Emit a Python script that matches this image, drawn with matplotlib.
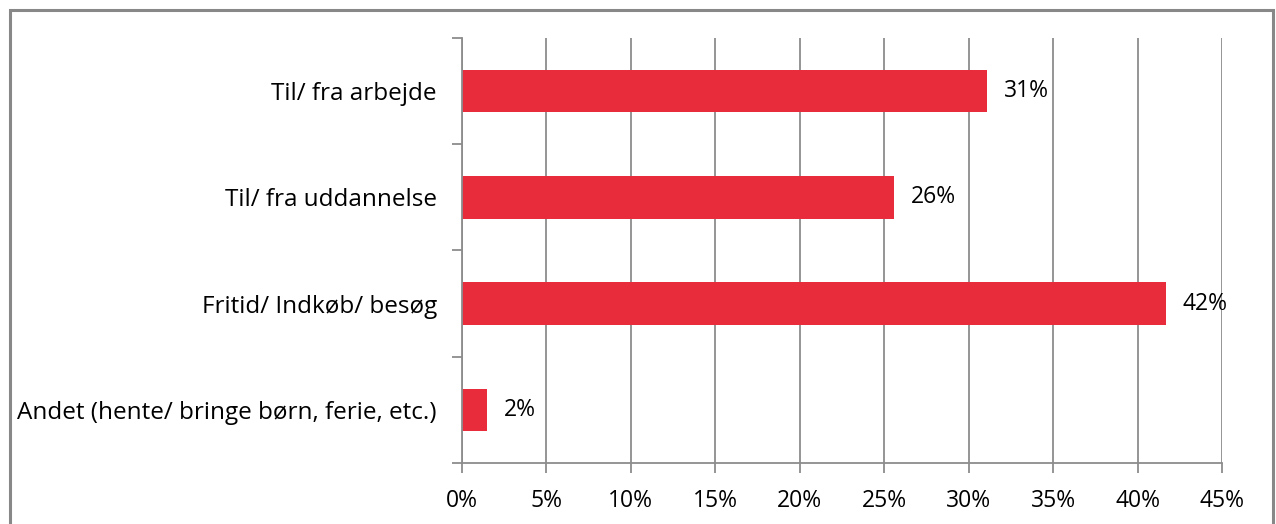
import matplotlib

matplotlib.use("Agg")
import matplotlib.pyplot as plt
from matplotlib.patches import Rectangle
from matplotlib.ticker import MultipleLocator, FuncFormatter

categories = [
    "Til/ fra arbejde",
    "Til/ fra uddannelse",
    "Fritid/ Indkøb/ besøg",
    "Andet (hente/ bringe børn, ferie, etc.)",
]
shares = [31.1, 25.6, 41.7, 1.5]  # percent

BAR = "#E92C3C"
GRID = "#8C8C8C"
FS = 16.5

plt.rcParams["font.family"] = ["Open Sans", "DejaVu Sans"]

fig = plt.figure(figsize=(12.76, 5.24), dpi=100)
ax = fig.add_axes([0.362, 0.1164, 0.5957, 0.8111])

y = list(range(len(categories)))
ax.barh(y, shares, height=0.4, color=BAR, zorder=3)
ax.set_ylim(len(categories) - 0.5, -0.5)
ax.set_xlim(0, 45)

ax.xaxis.set_major_locator(MultipleLocator(5))
ax.xaxis.set_major_formatter(FuncFormatter(lambda v, _: f"{v:.0f}%"))
ax.grid(axis="x", color=GRID, linewidth=1.3, zorder=0)

# category labels sit between the boundary ticks
ax.set_yticks(y)
ax.set_yticklabels(categories)
ax.set_yticks([i - 0.5 for i in range(len(categories) + 1)], minor=True)
ax.tick_params(axis="y", which="major", length=0, pad=18, labelsize=17.5)
ax.tick_params(axis="y", which="minor", length=7, width=1.3, color=GRID)
ax.tick_params(axis="x", length=7, width=1.3, color=GRID, pad=12, labelsize=FS)

for side in ("top", "right"):
    ax.spines[side].set_visible(False)
for side in ("left", "bottom"):
    ax.spines[side].set_color(GRID)
    ax.spines[side].set_linewidth(1.3)
    ax.spines[side].set_zorder(4)

for i, v in enumerate(shares):
    ax.annotate(f"{v:.0f}%", (v, i), xytext=(12, 0), textcoords="offset points",
                va="center", ha="left", fontsize=FS, zorder=5)

# outer chart frame
W, H = 1276, 524
fig.patches.append(Rectangle((10 / W, -0.05), 1263 / W, 1 - 10 / H + 0.05,
                             transform=fig.transFigure, fill=False,
                             edgecolor="#888888", linewidth=2.2, clip_on=False))

fig.savefig("out.png", dpi=100)
